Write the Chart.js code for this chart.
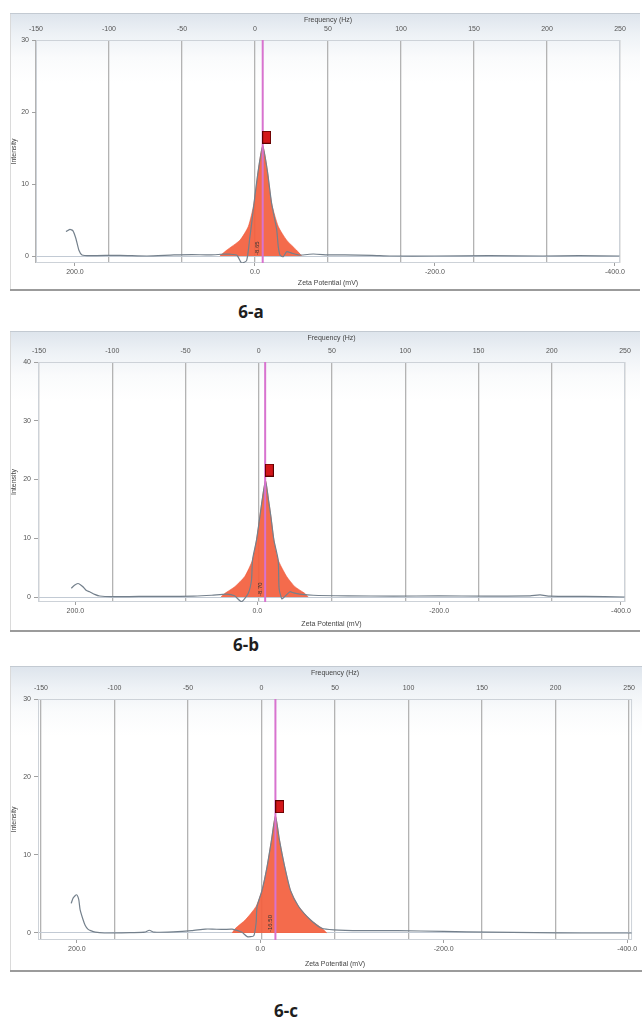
<!DOCTYPE html>
<html>
<head>
<meta charset="utf-8">
<script src="https://cdn.jsdelivr.net/npm/chart.js@4.4.1/dist/chart.umd.min.js"></script>
<style>
    html, body { margin: 0; padding: 0; background: #fff; }
    body { width: 642px; height: 1018px; position: relative; overflow: hidden; }
    .panel {
        position: absolute; left: 10px;
        background: linear-gradient(to bottom, #dde4ec 0px, #eef2f6 22px, #fafbfc 45px, #ffffff 70px);
        box-shadow: inset 0 1px 0 #c3cad2, inset 0 -2px 0 #9b9b9b, inset 1px 0 0 #dadada;
    }
    .panel canvas { position: absolute; left: 0; top: 0; }
    .caption {
        position: absolute; font-family: "Open Sans", sans-serif; font-weight: 700;
        font-size: 17px; color: #1e1e1e; transform: translateX(-50%);
    }
</style>
</head>
<body>
<div class="panel" id="panel-a" style="top:13px;width:630px;height:278px"><canvas id="chart-a" width="630" height="278"></canvas></div>
<div class="caption" style="left:251px;top:300px">6-a</div>
<div class="panel" id="panel-b" style="top:331px;width:630px;height:301px"><canvas id="chart-b" width="630" height="301"></canvas></div>
<div class="caption" style="left:246px;top:633px">6-b</div>
<div class="panel" id="panel-c" style="top:666px;width:632px;height:306px"><canvas id="chart-c" width="632" height="306"></canvas></div>
<div class="caption" style="left:286px;top:999px">6-c</div>

<script>
/* ── Axis tick values ── */
var freqTicks = [-150, -100, -50, 0, 50, 100, 150, 200, 250];
var zetaTicks = [200, 0, -200, -400];
var intensityTicksA = [0, 10, 20, 30];
var intensityTicksB = [0, 10, 20, 30, 40];
var intensityTicksC = [0, 10, 20, 30];

/* ── 6-a : [zeta potential mV, intensity] ── */
var curveA = [
    [210, 3.4], [205.6, 3.7], [202.2, 3.5], [198.9, 2.4], [195.6, 0.8], [192.2, 0.15], [183, 0.05],
    [150, 0.1], [120, 0.0], [90, 0.15], [70, 0.2], [50, 0.15], [35, 0.25], [27.8, 0.25], [20, 0.1],
    [14.8, -1.0], [9.2, -0.6], [5.6, 2.7], [3.7, 4.5], [1.1, 7.3], [-3.7, 11.9], [-8.6, 15.3],
    [-13.7, 11.9], [-18.5, 7.3], [-24.1, 3.7], [-25.9, 1.3], [-27.8, 0.14], [-31.5, -0.1], [-35.2, 0.6],
    [-40.8, 0.4], [-50, 0.14], [-64.8, 0.28], [-83, 0.15], [-100, 0.15], [-130, 0.1], [-150, 0.0],
    [-200, 0.0], [-260, 0.05], [-320, 0.0], [-360, 0.05], [-405, 0.0]
];
var peakFillA = [
    [39, 0], [31.5, 0.8], [16.7, 2.2], [7.4, 4.1], [1.1, 7.3], [-3.7, 11.9], [-8.6, 15.3],
    [-13.7, 11.9], [-18.5, 7.3], [-25.9, 4.1], [-35.2, 2.2], [-46.3, 0.8], [-52, 0]
];
var markerA = [-13, 16.5];
var peakPosA = -8.6;
var peakLabelA = '-8.65';

/* ── 6-b ── */
var curveB = [
    [204.5, 1.5], [201, 2.0], [197.2, 2.3], [194.5, 2.1], [191.7, 1.75], [187.9, 1.1], [184.3, 0.9],
    [178.8, 0.45], [173.3, 0.17], [160, 0.05], [130, 0.1], [100, 0.1], [70, 0.15], [50, 0.3],
    [33.8, 0.5], [25, 0.2], [17.3, -0.8], [10, 0.6], [6.3, 2.9], [5.2, 6.3], [0.8, 9.7], [-2.9, 13.7],
    [-5.4, 16.5], [-9.1, 19.8], [-12.4, 16.5], [-15, 13.7], [-18.3, 9.7], [-23, 6.3], [-24, 1.5],
    [-27, -0.3], [-31, 0.2], [-35.9, 0.9], [-40, 0.7], [-46.9, 0.5], [-61.5, 0.3], [-100, 0.2],
    [-150, 0.15], [-200, 0.2], [-250, 0.15], [-300, 0.2], [-311, 0.35], [-322, 0.15], [-360, 0.1], [-404, 0.0]
];
var peakFillB = [
    [40, 0], [35.7, 0.6], [24.7, 1.75], [13.7, 3.5], [5.2, 6.3], [0.8, 9.7], [-2.9, 13.7], [-5.4, 16.5],
    [-9.1, 19.8], [-12.4, 16.5], [-15, 13.7], [-18.3, 9.7], [-23, 6.3], [-32.3, 3.5], [-41.4, 1.75],
    [-52.4, 0.6], [-56, 0]
];
var markerB = [-13.3, 21.6];
var peakPosB = -8.7;
var peakLabelB = '-8.70';

/* ── 6-c ── */
var curveC = [
    [206.2, 3.8], [204, 4.5], [200.4, 4.9], [198, 4.3], [196.5, 3.0], [193.5, 1.8], [191, 1.0],
    [188, 0.5], [185, 0.3], [180, 0.1], [170, 0.0], [140, 0.05], [126, 0.1], [121, 0.35], [116, 0.1],
    [95, 0.15], [75, 0.3], [60, 0.5], [52.4, 0.5], [40, 0.45], [30.7, 0.5], [20, 0.1], [14.3, -0.47],
    [7.1, -0.35], [4.6, 1.25], [3.5, 3.4], [-2, 5.5], [-7.4, 8.5], [-12.2, 11.9], [-16.5, 15.0],
    [-20.9, 11.9], [-26.6, 8.5], [-32.8, 5.5], [-41.8, 3.4], [-54.6, 1.7], [-67.2, 0.6], [-80, 0.4],
    [-110, 0.3], [-150, 0.3], [-200, 0.2], [-250, 0.1], [-300, 0.05], [-350, 0.0], [-405, 0.0]
];
var peakFillC = [
    [30.7, 0], [27, 0.6], [16.1, 1.7], [4.6, 3.4], [-2, 5.5], [-7.4, 8.5], [-12.2, 11.9], [-16.5, 15.0],
    [-20.9, 11.9], [-26.6, 8.5], [-32.8, 5.5], [-41.8, 3.4], [-54.6, 1.7], [-67.2, 0.6], [-72.6, 0]
];
var markerC = [-21.2, 16.2];
var peakPosC = -16.5;
var peakLabelC = '-16.50';

/* ── Panel geometry (axis box sizes and ranges) ── */
var panelLayouts = {
    a: { yWidth: 26, topH: 27, bottomH: 28, padRight: 20, zeta: [-405.6, 243.3], freq: [-150, 250], y: [-0.97, 30] },
    b: { yWidth: 28, topH: 31, bottomH: 30, padRight: 15, zeta: [-404.4, 241.1], freq: [-150.7, 250], y: [-0.85, 40] },
    c: { yWidth: 28, topH: 33, bottomH: 32, padRight: 8,  zeta: [-405.4, 242.4], freq: [-152, 252], y: [-0.9, 30] }
};

var tickFont = { family: 'Liberation Sans', size: 7 };
var textColor = '#555';

// red square marker above the peak
var markerImg = document.createElement('canvas');
markerImg.width = 9;
markerImg.height = 13;
(function () {
    var m = markerImg.getContext('2d');
    m.fillStyle = '#d3161a';
    m.fillRect(0, 0, 9, 13);
    m.strokeStyle = '#5c0000';
    m.lineWidth = 1;
    m.strokeRect(0.5, 0.5, 8, 12);
})();

function toPoints(arr) {
    return arr.map(function (p) { return { x: p[0], y: p[1] }; });
}

// frame of the plot area and the rotated zeta value by the peak line
var panelDecor = {
    id: 'panelDecor',
    beforeDatasetsDraw: function (chart) {
        var a = chart.chartArea, ctx = chart.ctx;
        ctx.save();
        ctx.strokeStyle = '#cdd2d8';
        ctx.lineWidth = 1;
        ctx.strokeRect(a.left + 0.5, a.top + 0.5, a.right - a.left - 1, a.bottom - a.top - 1);
        ctx.restore();
    },
    afterDatasetsDraw: function (chart, args, opts) {
        var ctx = chart.ctx;
        var px = chart.scales.x.getPixelForValue(opts.pos);
        var py = chart.scales.y.getPixelForValue(0);
        ctx.save();
        ctx.translate(px - 2, py - 1);
        ctx.rotate(-Math.PI / 2);
        ctx.font = '6px "Liberation Sans"';
        ctx.fillStyle = '#333';
        ctx.textAlign = 'left';
        ctx.textBaseline = 'bottom';
        ctx.fillText(opts.text, 0, 0);
        ctx.restore();
    }
};

function buildPanel(canvasId, L, curve, fillPts, marker, peakPos, peakLabel, yTicks) {
    var ctx = document.getElementById(canvasId).getContext('2d');
    return new Chart(ctx, {
        type: 'line',
        data: {
            datasets: [
                { label: 'marker', data: toPoints([marker]), showLine: false, pointStyle: markerImg,
                  pointRadius: 6, order: 0 },
                { label: 'peak', data: toPoints([[peakPos, L.y[0]], [peakPos, L.y[1]]]), borderColor: '#d873cf',
                  borderWidth: 2, pointRadius: 0, order: 1 },
                { label: 'intensity', data: toPoints(curve), borderColor: '#74808c', borderWidth: 1.2,
                  pointRadius: 0, tension: 0.2, fill: false, order: 2 },
                { label: 'fill', data: toPoints(fillPts), borderColor: '#ee5434', borderWidth: 0.6,
                  backgroundColor: 'rgba(243, 96, 62, 0.93)', fill: 'origin', pointRadius: 0,
                  tension: 0.2, order: 3 }
            ]
        },
        options: {
            responsive: false,
            animation: false,
            events: [],
            layout: { padding: { left: 0, top: 0, bottom: 0, right: L.padRight } },
            plugins: {
                legend: { display: false },
                tooltip: { enabled: false },
                panelDecor: { pos: peakPos, text: peakLabel }
            },
            scales: {
                x: {
                    type: 'linear', position: 'bottom', reverse: true,
                    min: L.zeta[0], max: L.zeta[1],
                    afterBuildTicks: function (s) { s.ticks = zetaTicks.map(function (v) { return { value: v }; }); },
                    afterFit: function (s) { s.height = L.bottomH; },
                    ticks: { font: tickFont, color: textColor, padding: 2, maxRotation: 0,
                             callback: function (v) { return Number(v).toFixed(1); } },
                    grid: { drawOnChartArea: false, tickLength: 3, tickColor: '#a0a0a0' },
                    border: { display: false },
                    title: { display: true, text: 'Zeta Potential (mV)', font: tickFont, color: '#444',
                             padding: { top: 0, bottom: 4 } }
                },
                x2: {
                    type: 'linear', position: 'top',
                    min: L.freq[0], max: L.freq[1],
                    afterBuildTicks: function (s) { s.ticks = freqTicks.map(function (v) { return { value: v }; }); },
                    afterFit: function (s) { s.height = L.topH; },
                    ticks: { font: tickFont, color: textColor, padding: 7, maxRotation: 0 },
                    grid: { drawOnChartArea: true, drawTicks: false, color: '#b3b3b3', lineWidth: 1.3 },
                    border: { display: false },
                    title: { display: true, text: 'Frequency (Hz)', font: tickFont, color: '#444',
                             padding: { top: 3, bottom: 0 } }
                },
                y: {
                    type: 'linear', position: 'left',
                    min: L.y[0], max: L.y[1],
                    afterBuildTicks: function (s) { s.ticks = yTicks.map(function (v) { return { value: v }; }); },
                    afterFit: function (s) { s.width = L.yWidth; },
                    ticks: { font: tickFont, color: textColor, padding: 3 },
                    grid: {
                        drawOnChartArea: true, tickLength: 4, tickColor: '#a0a0a0',
                        color: function (c) { return c.tick && c.tick.value === 0 ? '#c2cad4' : 'rgba(0,0,0,0)'; }
                    },
                    border: { display: false },
                    title: { display: true, text: 'Intensity', font: tickFont, color: '#444',
                             padding: { top: 0, bottom: 0 } }
                }
            }
        },
        plugins: [panelDecor]
    });
}

buildPanel('chart-a', panelLayouts.a, curveA, peakFillA, markerA, peakPosA, peakLabelA, intensityTicksA);
buildPanel('chart-b', panelLayouts.b, curveB, peakFillB, markerB, peakPosB, peakLabelB, intensityTicksB);
buildPanel('chart-c', panelLayouts.c, curveC, peakFillC, markerC, peakPosC, peakLabelC, intensityTicksC);
</script>
</body>
</html>
